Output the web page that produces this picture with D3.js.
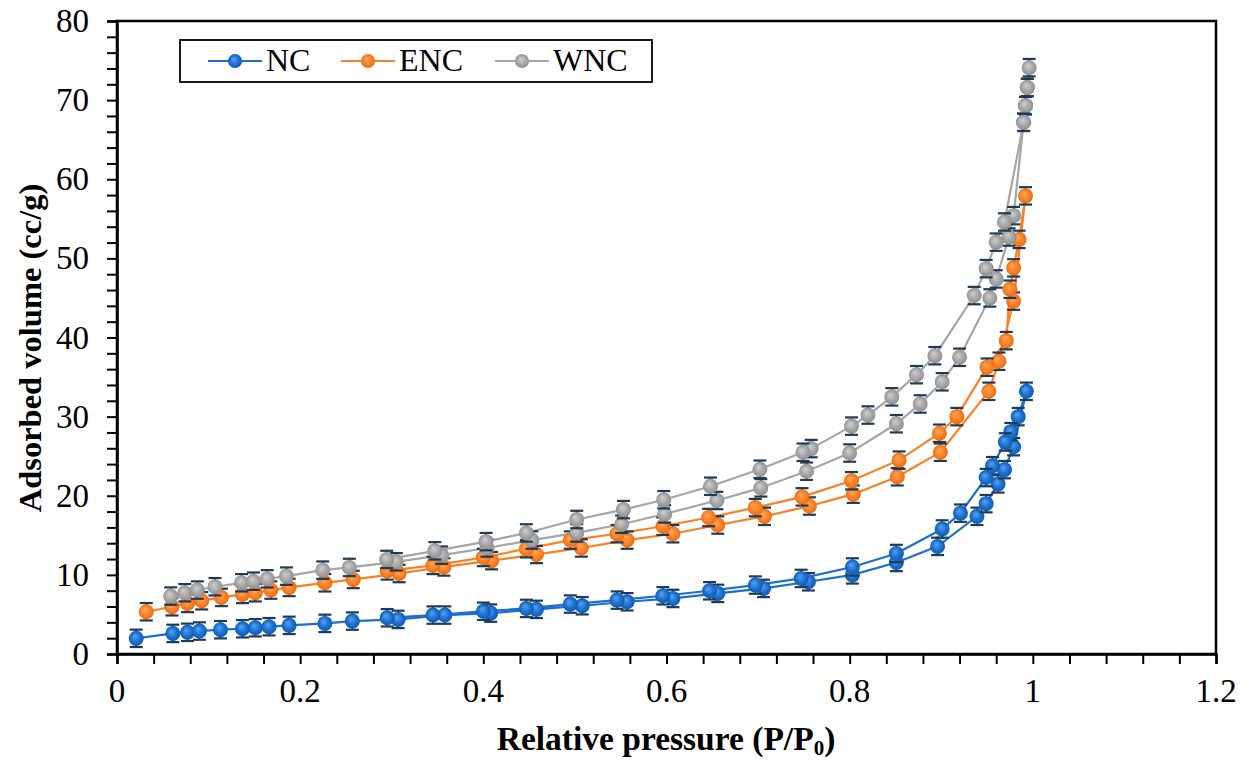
<!DOCTYPE html>
<html>
<head>
<meta charset="utf-8">
<script src="https://cdn.jsdelivr.net/npm/d3@7"></script>
<style>
  body{margin:0;background:#fff;}
  text{font-family:"Liberation Serif","Times New Roman",serif;}
</style>
</head>
<body>
<svg id="chart" width="1246" height="760"></svg>
<script>
// adsorption branch (low -> high P), then desorption branch (high -> low P)
var ncAds = [[0.021,1.98],[0.061,2.6],[0.077,2.74],[0.090,2.9],[0.113,3.07],[0.137,3.19],[0.151,3.32],[0.166,3.45],[0.188,3.62],[0.227,3.87],[0.257,4.16],[0.307,4.37],[0.358,4.92],[0.408,5.17],[0.458,5.64],[0.508,6.1],[0.557,6.6],[0.607,7.02],[0.656,7.66],[0.706,8.29],[0.755,9.13],[0.803,10.0],[0.851,11.57],[0.896,13.6],[0.939,17.4],[0.949,19.0],[0.962,21.5],[0.969,23.3],[0.979,26.2],[0.993,33.2]];
var ncDes = [[0.993,33.2],[0.984,30.0],[0.976,28.1],[0.970,26.8],[0.956,23.8],[0.949,22.3],[0.921,17.8],[0.901,15.8],[0.851,12.7],[0.803,11.0],[0.747,9.55],[0.697,8.71],[0.647,7.99],[0.596,7.36],[0.546,6.81],[0.495,6.31],[0.447,5.76],[0.400,5.4],[0.345,4.92],[0.295,4.58]];
var encAds = [[0.032,5.34],[0.060,5.97],[0.077,6.39],[0.0925,6.73],[0.114,7.15],[0.137,7.53],[0.151,7.74],[0.168,8.08],[0.188,8.41],[0.227,9.0],[0.258,9.42],[0.308,10.17],[0.357,11.0],[0.409,11.8],[0.458,12.58],[0.507,13.4],[0.557,14.4],[0.607,15.2],[0.656,16.3],[0.707,17.4],[0.756,18.7],[0.804,20.2],[0.852,22.4],[0.899,25.5],[0.952,33.2],[0.963,37.0],[0.979,44.6],[0.992,57.9]];
var encDes = [[0.992,57.9],[0.985,52.4],[0.979,48.8],[0.975,46.1],[0.971,39.6],[0.950,36.25],[0.917,30.0],[0.898,27.9],[0.854,24.5],[0.802,21.9],[0.748,19.86],[0.697,18.5],[0.646,17.25],[0.596,16.15],[0.546,15.2],[0.495,14.4],[0.447,13.3],[0.400,12.2],[0.345,11.2],[0.295,10.5]];
var wncAds = [[0.0586,7.32],[0.074,7.74],[0.0877,8.08],[0.107,8.5],[0.136,9.0],[0.149,9.2],[0.164,9.5],[0.185,9.84],[0.2246,10.6],[0.2537,10.94],[0.305,11.65],[0.3545,12.49],[0.404,13.4],[0.453,14.4],[0.502,15.3],[0.551,16.4],[0.598,17.7],[0.655,19.4],[0.703,21.0],[0.753,23.1],[0.800,25.4],[0.851,29.1],[0.877,31.6],[0.901,34.4],[0.920,37.5],[0.953,45.0],[0.960,47.4],[0.974,52.7],[0.979,55.4],[0.990,67.2],[0.992,69.3],[0.994,71.6],[0.996,74.1]];
var wncDes = [[0.996,74.1],[0.994,71.6],[0.992,69.3],[0.990,67.2],[0.969,54.6],[0.960,52.05],[0.949,48.7],[0.936,45.3],[0.893,37.7],[0.873,35.3],[0.846,32.5],[0.820,30.2],[0.802,28.8],[0.758,25.96],[0.749,25.5],[0.702,23.35],[0.648,21.2],[0.597,19.5],[0.553,18.25],[0.502,17.0],[0.447,15.3],[0.403,14.2],[0.347,13.04],[0.2945,11.95]];
var errBar = 1.1;
var seriesNames = ["NC","ENC","WNC"];
var xTicks = [0,0.2,0.4,0.6,0.8,1,1.2];
var yTicks = [0,10,20,30,40,50,60,70,80];

var colors = ["#1a6fcf","#fd7f23","#a5a5a5"];
var light = ["#5aa2ee","#ffa95e","#cfcfcf"];
var dark = ["#0f57aa","#e06a10","#8c8c8c"];
var allSeries = [[ncAds,ncDes],[encAds,encDes],[wncAds,wncDes]];

var svg = d3.select("#chart");
var m = {l:117,r:1216,t:21,b:654};
var x = d3.scaleLinear().domain([0,1.2]).range([m.l,m.r]);
var y = d3.scaleLinear().domain([0,80]).range([m.b,m.t]);

// gradients for the shiny markers
var defs = svg.append("defs");
colors.forEach(function(c,i){
  var g = defs.append("radialGradient").attr("id","grad"+i)
    .attr("cx","50%").attr("cy","50%").attr("r","55%").attr("fx","40%").attr("fy","35%");
  g.append("stop").attr("offset","0%").attr("stop-color",light[i]);
  g.append("stop").attr("offset","60%").attr("stop-color",c);
  g.append("stop").attr("offset","100%").attr("stop-color",dark[i]);
});

// frame
svg.append("rect").attr("x",m.l).attr("y",m.t).attr("width",m.r-m.l).attr("height",m.b-m.t)
  .attr("fill","none").attr("stroke","#000").attr("stroke-width",2.5);

// axes
var xAxis = d3.axisBottom(x).tickValues(d3.range(0,1.2001,0.04)).tickSize(10).tickFormat("");
var gx = svg.append("g").attr("transform","translate(0,"+m.b+")").call(xAxis);
var yAxis = d3.axisLeft(y).tickValues(d3.range(0,80.001,2)).tickSize(10).tickFormat("");
var gy = svg.append("g").attr("transform","translate("+m.l+",0)").call(yAxis);
[gx,gy].forEach(function(g){
  g.select(".domain").attr("stroke","#000").attr("stroke-width",2.5);
  g.selectAll(".tick line").attr("stroke","#000").attr("stroke-width",2);
});

svg.selectAll(".xlab").data(xTicks).enter().append("text")
  .attr("x",function(d){return x(d);}).attr("y",702)
  .attr("text-anchor","middle").attr("font-size",33).text(function(d){return d;});
svg.selectAll(".ylab").data(yTicks).enter().append("text")
  .attr("x",89).attr("y",function(d){return y(d)+11;})
  .attr("text-anchor","end").attr("font-size",33).text(function(d){return d;});

// titles
var xt = svg.append("text").attr("x",666).attr("y",750).attr("text-anchor","middle")
  .attr("font-size",33.5).attr("font-weight","bold");
xt.append("tspan").text("Relative pressure (P/P");
xt.append("tspan").attr("font-size",21).attr("dy",5).text("0");
xt.append("tspan").attr("dy",-5).text(")");
svg.append("text").attr("transform","translate(41,348) rotate(-90)").attr("text-anchor","middle")
  .attr("font-size",32.5).attr("font-weight","bold").text("Adsorbed volume (cc/g)");

// series
var line = d3.line().x(function(d){return x(d[0]);}).y(function(d){return y(d[1]);});
allSeries.forEach(function(s,i){
  var pts = s[0].concat(s[1].slice(1));
  svg.append("path").datum(pts).attr("d",line).attr("fill","none")
    .attr("stroke",colors[i]).attr("stroke-width",2.2);
});
allSeries.forEach(function(s,i){
  var pts = s[0].concat(s[1].slice(1));
  var g = svg.append("g");
  var pt = g.selectAll("g").data(pts).enter().append("g");
  pt.append("line").attr("x1",function(d){return x(d[0]);}).attr("x2",function(d){return x(d[0]);})
    .attr("y1",function(d){return y(d[1]-errBar);}).attr("y2",function(d){return y(d[1]+errBar);})
    .attr("stroke","#1f3a55").attr("stroke-width",1.8);
  [-1,1].forEach(function(sg){
    pt.append("line").attr("x1",function(d){return x(d[0])-6.5;}).attr("x2",function(d){return x(d[0])+6.5;})
      .attr("y1",function(d){return y(d[1]+sg*errBar);}).attr("y2",function(d){return y(d[1]+sg*errBar);})
      .attr("stroke","#1f3a55").attr("stroke-width",2.2);
  });
  pt.append("circle").attr("cx",function(d){return x(d[0]);}).attr("cy",function(d){return y(d[1]);})
    .attr("r",7.5).attr("fill","url(#grad"+i+")");
});

// legend
var lg = svg.append("g");
lg.append("rect").attr("x",180).attr("y",40).attr("width",472).attr("height",42)
  .attr("fill","#fff").attr("stroke","#000").attr("stroke-width",1.8);
var lx = [208,341,495];
seriesNames.forEach(function(n,i){
  lg.append("line").attr("x1",lx[i]).attr("x2",lx[i]+54).attr("y1",61).attr("y2",61)
    .attr("stroke",colors[i]).attr("stroke-width",2.2);
  lg.append("circle").attr("cx",lx[i]+27).attr("cy",61).attr("r",7).attr("fill","url(#grad"+i+")");
  lg.append("text").attr("x",lx[i]+58).attr("y",71).attr("font-size",32).text(n);
});
</script>
</body>
</html>
